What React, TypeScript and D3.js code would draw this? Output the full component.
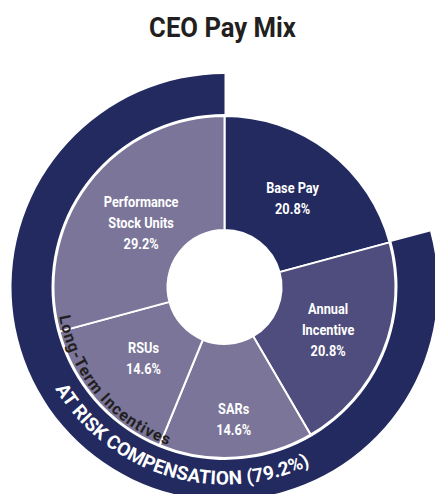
import React from "react";
import * as d3 from "d3";

const categories = ["Base Pay", "Annual Incentive", "SARs", "RSUs", "Performance Stock Units"];
const values = [20.8, 20.8, 14.6, 14.6, 29.2];
const labelLines = [["Base Pay"], ["Annual", "Incentive"], ["SARs"], ["RSUs"], ["Performance", "Stock Units"]];
const atRiskLabel = "AT RISK COMPENSATION (79.2%)";
const ltiLabel = "Long-Term Incentives";
const title = "CEO Pay Mix";

const W = 435, H = 494;
const cx = 224.5, cy = 287;
const NAVY = "#222a60";
const sliceColors = [NAVY, "#4f4d7d", "#7a7599", "#7a7599", "#7a7599"];
const labelR = [112, 112, 133, 108, 105];
const FONT = "Roboto, 'Liberation Sans', sans-serif";
const SX = 0.88;

const deg = (d: number) => (d * Math.PI) / 180;
function arcPath(r: number, a0: number, a1: number) {
  const x0 = r * Math.sin(a0), y0 = -r * Math.cos(a0);
  const x1 = r * Math.sin(a1), y1 = -r * Math.cos(a1);
  const large = Math.abs(a1 - a0) > Math.PI ? 1 : 0;
  const sweep = a1 > a0 ? 1 : 0;
  return `M${x0},${y0} A${r},${r} 0 ${large} ${sweep} ${x1},${y1}`;
}

export default function App() {
  const data = categories.map((c, i) => ({ name: c, value: values[i], lines: labelLines[i], i }));
  const pie = d3.pie<any>().sort(null).value((d) => d.value);
  const arcs = pie(data);
  const sliceArc = d3.arc<any>().innerRadius(57).outerRadius(171);
  const ringStart = arcs[0].endAngle;
  const ringArc = d3.arc<any>().innerRadius(173).outerRadius(213)({ startAngle: ringStart, endAngle: 2 * Math.PI } as any);

  const riskA0 = deg(239), riskA1 = deg(153), riskR = 197.5;
  const ltiA0 = deg(260), ltiA1 = deg(198.5), ltiR = 168;

  return (
    <svg width={W} height={H} style={{ position: "absolute", left: 0, top: 0 }} fontFamily={FONT}>
      <text transform={`translate(222.5,36.5) scale(0.9,1)`} textAnchor="middle" fontSize={28.5} fontWeight="bold" fill="#231f20">
        {title}
      </text>
      <g transform={`translate(${cx},${cy})`}>
        <path d={ringArc as string} fill={NAVY} />
        {arcs.map((a, i) => (
          <path key={i} d={sliceArc(a) as string} fill={sliceColors[i]} stroke="#fff" strokeWidth={2} />
        ))}
        {arcs.map((a, i) => {
          const mid = (a.startAngle + a.endAngle) / 2;
          const r = labelR[i];
          const x = r * Math.sin(mid), y = -r * Math.cos(mid);
          const lines = [...a.data.lines, `${a.data.value.toFixed(1)}%`];
          const n = lines.length;
          return (
            <g key={i} transform={`translate(${x},${y}) scale(${SX},1)`}>
              <text textAnchor="middle" fontSize={14.5} fontWeight="bold" fill="#fff">
                {lines.map((l: string, j: number) => (
                  <tspan key={j} x={0} y={(j - (n - 1) / 2) * 21 + 5}>
                    {l}
                  </tspan>
                ))}
              </text>
            </g>
          );
        })}
        <defs>
          <path id="riskPath" d={arcPath(riskR, riskA0, riskA1)} />
          <path id="ltiPath" d={arcPath(ltiR, ltiA0, ltiA1)} />
        </defs>
        <text fontSize={19} fontWeight="bold" fill="#fff">
          <textPath href="#riskPath" textLength={riskR * (riskA0 - riskA1) * 0.985} lengthAdjust="spacing">
            {atRiskLabel}
          </textPath>
        </text>
        <text fontSize={16} fill="#231f20" fontWeight="bold">
          <textPath href="#ltiPath" textLength={ltiR * (ltiA0 - ltiA1) * 0.98} lengthAdjust="spacing">
            {ltiLabel}
          </textPath>
        </text>
      </g>
    </svg>
  );
}
